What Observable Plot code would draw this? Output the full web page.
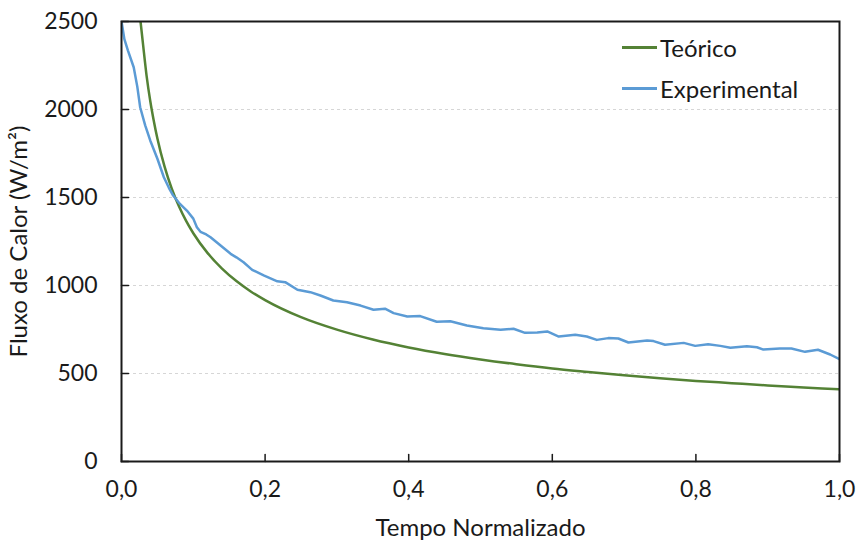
<!DOCTYPE html>
<html>
<head>
<meta charset="utf-8">
<script src="https://cdn.jsdelivr.net/npm/d3@7"></script>
<script src="https://cdn.jsdelivr.net/npm/@observablehq/plot@0.6"></script>
<style>
  html, body { margin: 0; padding: 0; background: #fff; }
  #wrap { position: relative; width: 858px; height: 545px; font-family: Lato, "Open Sans", sans-serif; }
  #legend { position: absolute; left: 620px; top: 27px; font-size: 24px; color: #1a1a1a; line-height: 41px; background: #fff; padding: 0 4px 0 2px; }
  .item { display: flex; align-items: center; }
  .sw { display: inline-block; width: 35px; height: 2.5px; margin-right: 3px; }
</style>
</head>
<body>
<div id="wrap"></div>
<script>
const seriesNames = ["Teórico", "Experimental"];
const seriesColors = ["#548235", "#5B9BD5"];

const theoX = [0.0265, 0.03, 0.035, 0.04, 0.045, 0.05, 0.06, 0.07, 0.08, 0.09, 0.1, 0.12, 0.14, 0.16, 0.18, 0.2, 0.25, 0.3, 0.35, 0.4, 0.45, 0.5, 0.55, 0.6, 0.65, 0.7, 0.75, 0.8, 0.85, 0.9, 0.95, 1.0];
const theoY = [2500, 2370, 2190, 2050, 1935, 1835, 1675, 1550, 1450, 1367, 1297, 1184, 1096, 1025, 966, 917, 820, 749, 693, 648, 611, 580, 553, 529, 509, 490, 473, 458, 445, 432, 421, 410];

const expX = [0, 0.004, 0.009, 0.017, 0.022, 0.026, 0.033, 0.040, 0.050, 0.059, 0.066, 0.072, 0.080, 0.091, 0.100, 0.105, 0.110, 0.118, 0.124, 0.138, 0.152, 0.160, 0.170, 0.182, 0.198, 0.217, 0.228, 0.245, 0.263, 0.277, 0.295, 0.314, 0.333, 0.351, 0.367, 0.379, 0.398, 0.416, 0.439, 0.458, 0.481, 0.504, 0.528, 0.546, 0.562, 0.579, 0.593, 0.609, 0.632, 0.648, 0.662, 0.678, 0.692, 0.706, 0.732, 0.741, 0.757, 0.783, 0.799, 0.817, 0.834, 0.848, 0.871, 0.885, 0.894, 0.917, 0.933, 0.952, 0.970, 0.987, 1.0];
const expY = [2500, 2400, 2335, 2240, 2130, 2013, 1910, 1824, 1720, 1615, 1555, 1511, 1470, 1426, 1380, 1331, 1305, 1290, 1274, 1227, 1180, 1160, 1132, 1089, 1057, 1024, 1019, 976, 962, 943, 915, 905, 886, 862, 868, 843, 824, 826, 794, 797, 773, 757, 748, 754, 731, 733, 739, 710, 720, 710, 691, 701, 699, 676, 688, 684, 663, 674, 657, 666, 657, 646, 655, 649, 636, 642, 642, 623, 635, 608, 581];

const xTicks = [0, 0.2, 0.4, 0.6, 0.8, 1.0];
const yTicks = [0, 500, 1000, 1500, 2000, 2500];
const gridValues = [500, 1000, 1500, 2000];

const theo = theoX.map((x, i) => ({x, y: theoY[i]}));
const exp = expX.map((x, i) => ({x, y: expY[i]}));

const tickShape = { draw(context, l) { context.moveTo(0, 0); context.lineTo(0, -l); } };

const chart = Plot.plot({
  width: 858,
  height: 545,
  marginLeft: 121,
  marginRight: 19,
  marginTop: 21,
  marginBottom: 84,
  style: { fontFamily: "Lato, 'Open Sans', sans-serif", fontSize: "23px", color: "#1a1a1a", background: "#fff" },
  x: { domain: [0, 1] },
  y: { domain: [0, 2500] },
  marks: [
    Plot.gridY(gridValues, { stroke: "#d6d6d6", strokeOpacity: 1, strokeDasharray: "3,3" }),
    Plot.line(theo, { x: "x", y: "y", stroke: seriesColors[0], strokeWidth: 2.5, curve: "monotone-x", clip: true }),
    Plot.line(exp, { x: "x", y: "y", stroke: seriesColors[1], strokeWidth: 2.5, curve: "linear", clip: true }),
    Plot.vector(yTicks, { y: d => d, frameAnchor: "left", rotate: 90, length: 7, anchor: "start", shape: tickShape, stroke: "#1a1a1a", strokeWidth: 1.5 }),
    Plot.vector(xTicks, { x: d => d, frameAnchor: "bottom", rotate: 0, length: 7, anchor: "start", shape: tickShape, stroke: "#1a1a1a", strokeWidth: 1.5 }),
    Plot.frame({ stroke: "#1a1a1a", strokeWidth: 2 }),
    Plot.axisX(xTicks, { tickSize: 0, tickPadding: 19, tickFormat: d => d3.format(".1f")(d).replace(".", ","), fontSize: 23, label: null }),
    Plot.axisX({ ticks: [], tickSize: 0, label: "Tempo Normalizado", labelAnchor: "center", labelArrow: "none", labelOffset: 74, fontSize: 24 }),
    Plot.axisY(yTicks, { tickSize: 0, tickPadding: 24, tickFormat: d => String(d), fontSize: 23, label: null }),
    Plot.axisY({ ticks: [], tickSize: 0, label: "Fluxo de Calor (W/m²)", labelAnchor: "center", labelArrow: "none", labelOffset: 112, fontSize: 24 })
  ]
});
const wrap = document.getElementById("wrap");
wrap.appendChild(chart);

const legend = document.createElement("div");
legend.id = "legend";
legend.innerHTML = seriesNames.map((n, i) => `<div class="item"><span class="sw" style="background:${seriesColors[i]}"></span>${n}</div>`).join("");
wrap.appendChild(legend);
</script>
</body>
</html>
